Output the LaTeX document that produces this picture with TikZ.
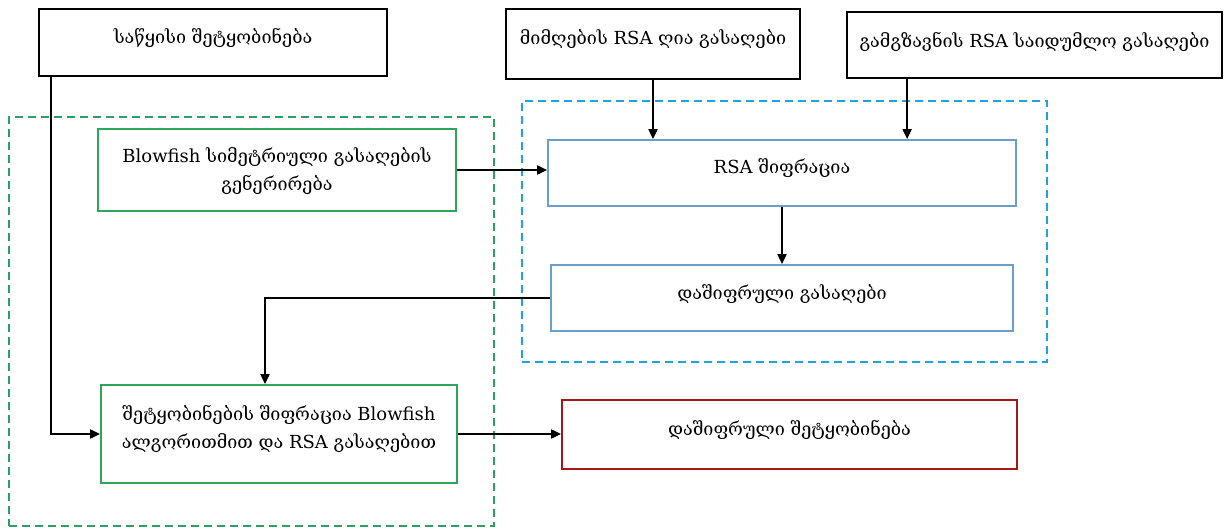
\documentclass[tikz,border=0pt]{standalone}
\usepackage{fontspec}
\setmainfont{DejaVu Serif}
\usetikzlibrary{arrows.meta}
\definecolor{boxgreen}{HTML}{2EA55A}
\definecolor{grpgreen}{HTML}{2E9E62}
\definecolor{boxblue}{HTML}{6A9FCB}
\definecolor{grpblue}{HTML}{1FA3DD}
\definecolor{boxred}{HTML}{A8161C}
\begin{document}
\begin{tikzpicture}[x=1pt,y=-1pt,
  box/.style={draw, line width=1.8pt, inner sep=0pt},
  blackbox/.style={box, draw=black},
  greenbox/.style={box, draw=boxgreen},
  bluebox/.style={box, draw=boxblue},
  redbox/.style={box, draw=boxred},
  group/.style={draw, dashed, dash pattern=on 8pt off 5pt, line width=1.8pt, inner sep=0pt},
  lbl/.style={align=center, font=\fontsize{18}{28}\selectfont, inner sep=0pt},
  arr/.style={-{Triangle[length=10pt,width=9pt]}, line width=2pt, black}]
\useasboundingbox (0,0) rectangle (1228,529);
\fill[white] (0,0) rectangle (1228,529);

% dashed groups
\node[group, draw=grpgreen, minimum width=485pt, minimum height=409pt] (gg) at (251.5,321.5) {};
\node[group, draw=grpblue, minimum width=525pt, minimum height=261pt] (bg) at (784.5,231.5) {};

% top inputs
\node[blackbox, minimum width=348pt, minimum height=67pt] (a) at (213,42.5) {};
\node[blackbox, minimum width=294pt, minimum height=70pt] (b) at (653,44) {};
\node[blackbox, minimum width=375pt, minimum height=66pt] (c) at (1034.5,45) {};

% processing boxes
\node[greenbox, minimum width=358pt, minimum height=82pt] (bf) at (277,170) {};
\node[bluebox, minimum width=468pt, minimum height=66pt] (rsa) at (782,173) {};
\node[bluebox, minimum width=462pt, minimum height=66pt] (ek) at (782,298) {};
\node[greenbox, minimum width=356pt, minimum height=98pt] (enc) at (279,434) {};
\node[redbox, minimum width=455pt, minimum height=69pt] (out) at (789.5,434.5) {};

% labels
\node[lbl] (ta) at ([yshift=4pt]a.center) {საწყისი შეტყობინება};
\node[lbl] (tb) at ([yshift=5pt]b.center) {მიმღების RSA ღია გასაღები};
\node[lbl] (tc) at ([yshift=3pt]c.center) {გამგზავნის RSA საიდუმლო გასაღები};
\node[lbl] (tbf) at ([yshift=-1pt]bf.center) {Blowfish სიმეტრიული გასაღების\\გენერირება};
\node[lbl] (trsa) at ([yshift=5pt]rsa.center) {RSA შიფრაცია};
\node[lbl] (tek) at ([yshift=4pt]ek.center) {დაშიფრული გასაღები};
\node[lbl] (tenc) at ([yshift=5pt]enc.center) {შეტყობინების შიფრაცია Blowfish\\ალგორითმით და RSA გასაღებით};
\node[lbl] (tout) at ([yshift=5pt]out.center) {დაშიფრული შეტყობინება};

% connectors
\draw[arr] ([xshift=13pt]a.south west) |- (enc.west);
\draw[arr] (b.south) -- (b.south |- rsa.north);
\draw[arr] ([xshift=61pt]c.south west) -- ([xshift=61pt]c.south west |- rsa.north);
\draw[arr] (bf.east) -- (bf.east -| rsa.west);
\draw[arr] (rsa.south) -- (ek.north);
\draw[arr] (ek.west) -| ([xshift=-14pt]enc.north);
\draw[arr] (enc.east) -- (enc.east -| out.west);
\end{tikzpicture}
\end{document}
